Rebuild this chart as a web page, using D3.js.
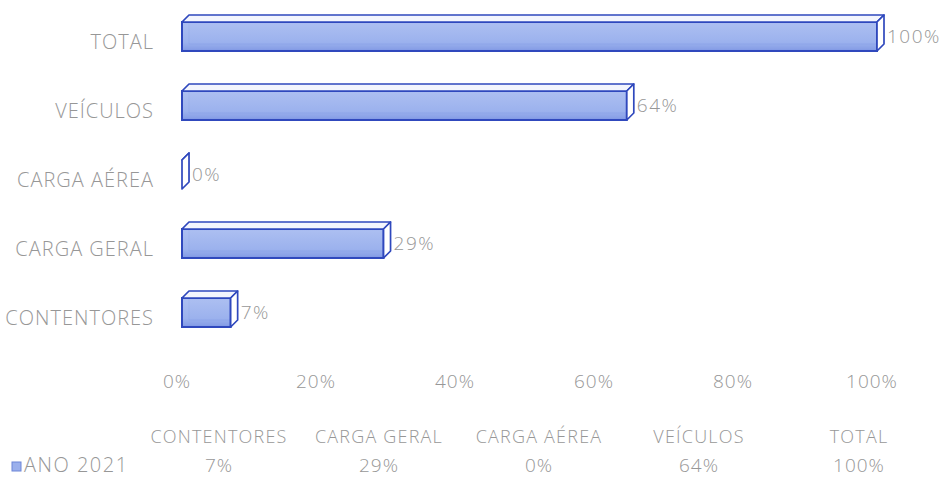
<!DOCTYPE html>
<html>
<head>
<meta charset="utf-8">
<script src="https://cdn.jsdelivr.net/npm/d3@7"></script>
<style>
    body { margin: 0; background: #fff; }
    svg text { font-family: "Open Sans", "DejaVu Sans", sans-serif; font-weight: 300; fill: #979797; }
</style>
</head>
<body>
<div id="chart"></div>
<script>
// data
const categories = ['TOTAL', 'VEÍCULOS', 'CARGA AÉREA', 'CARGA GERAL', 'CONTENTORES'];
const values = [1.00, 0.64, 0.00, 0.29, 0.07];
const tableOrder = ['CONTENTORES', 'CARGA GERAL', 'CARGA AÉREA', 'VEÍCULOS', 'TOTAL'];
const ticks = [0, 0.2, 0.4, 0.6, 0.8, 1.0];
const seriesName = 'ANO 2021';

window.Chart = window.Chart || {};

Chart.init = function() {
    Chart.width = 950;
    Chart.height = 480;
    Chart.depth = 7; // 3d offset of the bars

    Chart.svg = d3.select('#chart').append('svg')
        .attr('width', Chart.width)
        .attr('height', Chart.height);

    Chart.x = d3.scaleLinear().domain([0, 1]).range([182, 877]);
    Chart.y = d3.scaleBand().domain(categories).range([2, 347])
        .paddingInner(0.58).paddingOuter(0.29);
    Chart.col = d3.scaleBand().domain(tableOrder).range([139, 939]);

    Chart.drawBars();
    Chart.drawAxis();
    Chart.drawTable();
};

Chart.drawBars = function() {
    let d = Chart.depth;
    let x0 = Chart.x(0);
    let h = Chart.y.bandwidth();
    let stroke = '#2f48bd';

    let defs = Chart.svg.append('defs');
    let grad = defs.append('linearGradient').attr('id', 'front')
        .attr('x1', 0).attr('y1', 0).attr('x2', 0).attr('y2', 1);
    grad.append('stop').attr('offset', '0%').attr('stop-color', '#a6baf0');
    grad.append('stop').attr('offset', '70%').attr('stop-color', '#93abec');
    grad.append('stop').attr('offset', '100%').attr('stop-color', '#7791e2');

    let bars = Chart.svg.append('g').selectAll('g')
        .data(categories.map((c, i) => ({cat: c, v: values[i]})))
        .join('g');

    // back edges, seen through the box
    bars.append('path')
        .attr('d', b => {
            let y = Chart.y(b.cat), x1 = Chart.x(b.v);
            return 'M' + (x0 + d) + ',' + (y - d) + 'V' + (y + h - d) + 'H' + (x1 + d);
        })
        .attr('fill', 'none').attr('stroke', stroke).attr('stroke-opacity', 0.5);

    // front face
    bars.append('rect')
        .attr('x', x0)
        .attr('y', b => Chart.y(b.cat))
        .attr('width', b => Chart.x(b.v) - x0)
        .attr('height', h)
        .attr('fill', 'url(#front)').attr('fill-opacity', 0.92)
        .attr('stroke', stroke).attr('stroke-width', 2);

    // top face
    bars.append('path')
        .attr('d', b => {
            let y = Chart.y(b.cat), x1 = Chart.x(b.v);
            return 'M' + x0 + ',' + y + 'L' + (x0 + d) + ',' + (y - d)
                + 'L' + (x1 + d) + ',' + (y - d) + 'L' + x1 + ',' + y + 'Z';
        })
        .attr('fill', '#f3f5fd')
        .attr('stroke', stroke).attr('stroke-width', 1.7).attr('stroke-linejoin', 'round');

    // end face
    bars.append('path')
        .attr('d', b => {
            let y = Chart.y(b.cat), x1 = Chart.x(b.v);
            return 'M' + x1 + ',' + y + 'L' + (x1 + d) + ',' + (y - d)
                + 'L' + (x1 + d) + ',' + (y + h - d) + 'L' + x1 + ',' + (y + h) + 'Z';
        })
        .attr('fill', '#ffffff')
        .attr('stroke', stroke).attr('stroke-width', 1.7).attr('stroke-linejoin', 'round');

    // value labels
    bars.append('text')
        .attr('x', b => Chart.x(b.v) + d + 3)
        .attr('y', b => Chart.y(b.cat) + h / 2 + 1)
        .attr('dominant-baseline', 'middle')
        .attr('font-size', 19).attr('letter-spacing', 1.5)
        .text(b => d3.format('.0%')(b.v));
};

Chart.drawAxis = function() {
    let h = Chart.y.bandwidth();

    // category labels
    Chart.svg.append('g').selectAll('text')
        .data(categories)
        .join('text')
        .attr('x', 154)
        .attr('y', c => Chart.y(c) + h / 2 + 7)
        .attr('text-anchor', 'end')
        .attr('dominant-baseline', 'middle')
        .attr('font-size', 20).attr('letter-spacing', 1)
        .text(c => c);

    // value axis tick labels
    Chart.svg.append('g').selectAll('text')
        .data(ticks)
        .join('text')
        .attr('x', t => Chart.x(t) - 5)
        .attr('y', 383)
        .attr('text-anchor', 'middle')
        .attr('dominant-baseline', 'middle')
        .attr('font-size', 19).attr('letter-spacing', 1)
        .text(d3.format('.0%'));
};

Chart.drawTable = function() {
    let cx = c => Chart.col(c) + Chart.col.bandwidth() / 2;
    let g = Chart.svg.append('g');

    g.selectAll('text.head')
        .data(tableOrder)
        .join('text').attr('class', 'head')
        .attr('x', cx).attr('y', 438)
        .attr('text-anchor', 'middle').attr('dominant-baseline', 'middle')
        .attr('font-size', 18).attr('letter-spacing', 1.2)
        .text(c => c);

    g.selectAll('text.val')
        .data(tableOrder)
        .join('text').attr('class', 'val')
        .attr('x', cx).attr('y', 467)
        .attr('text-anchor', 'middle').attr('dominant-baseline', 'middle')
        .attr('font-size', 19).attr('letter-spacing', 1)
        .text(c => d3.format('.0%')(values[categories.indexOf(c)]));

    // legend key
    g.append('rect')
        .attr('x', 12).attr('y', 462)
        .attr('width', 9).attr('height', 9)
        .attr('fill', '#9bb0ec').attr('stroke', '#6d86d8');
    g.append('text')
        .attr('x', 24).attr('y', 467)
        .attr('dominant-baseline', 'middle')
        .attr('font-size', 20).attr('letter-spacing', 1.5)
        .text(seriesName);
};

document.addEventListener('DOMContentLoaded', Chart.init);
</script>
</body>
</html>
